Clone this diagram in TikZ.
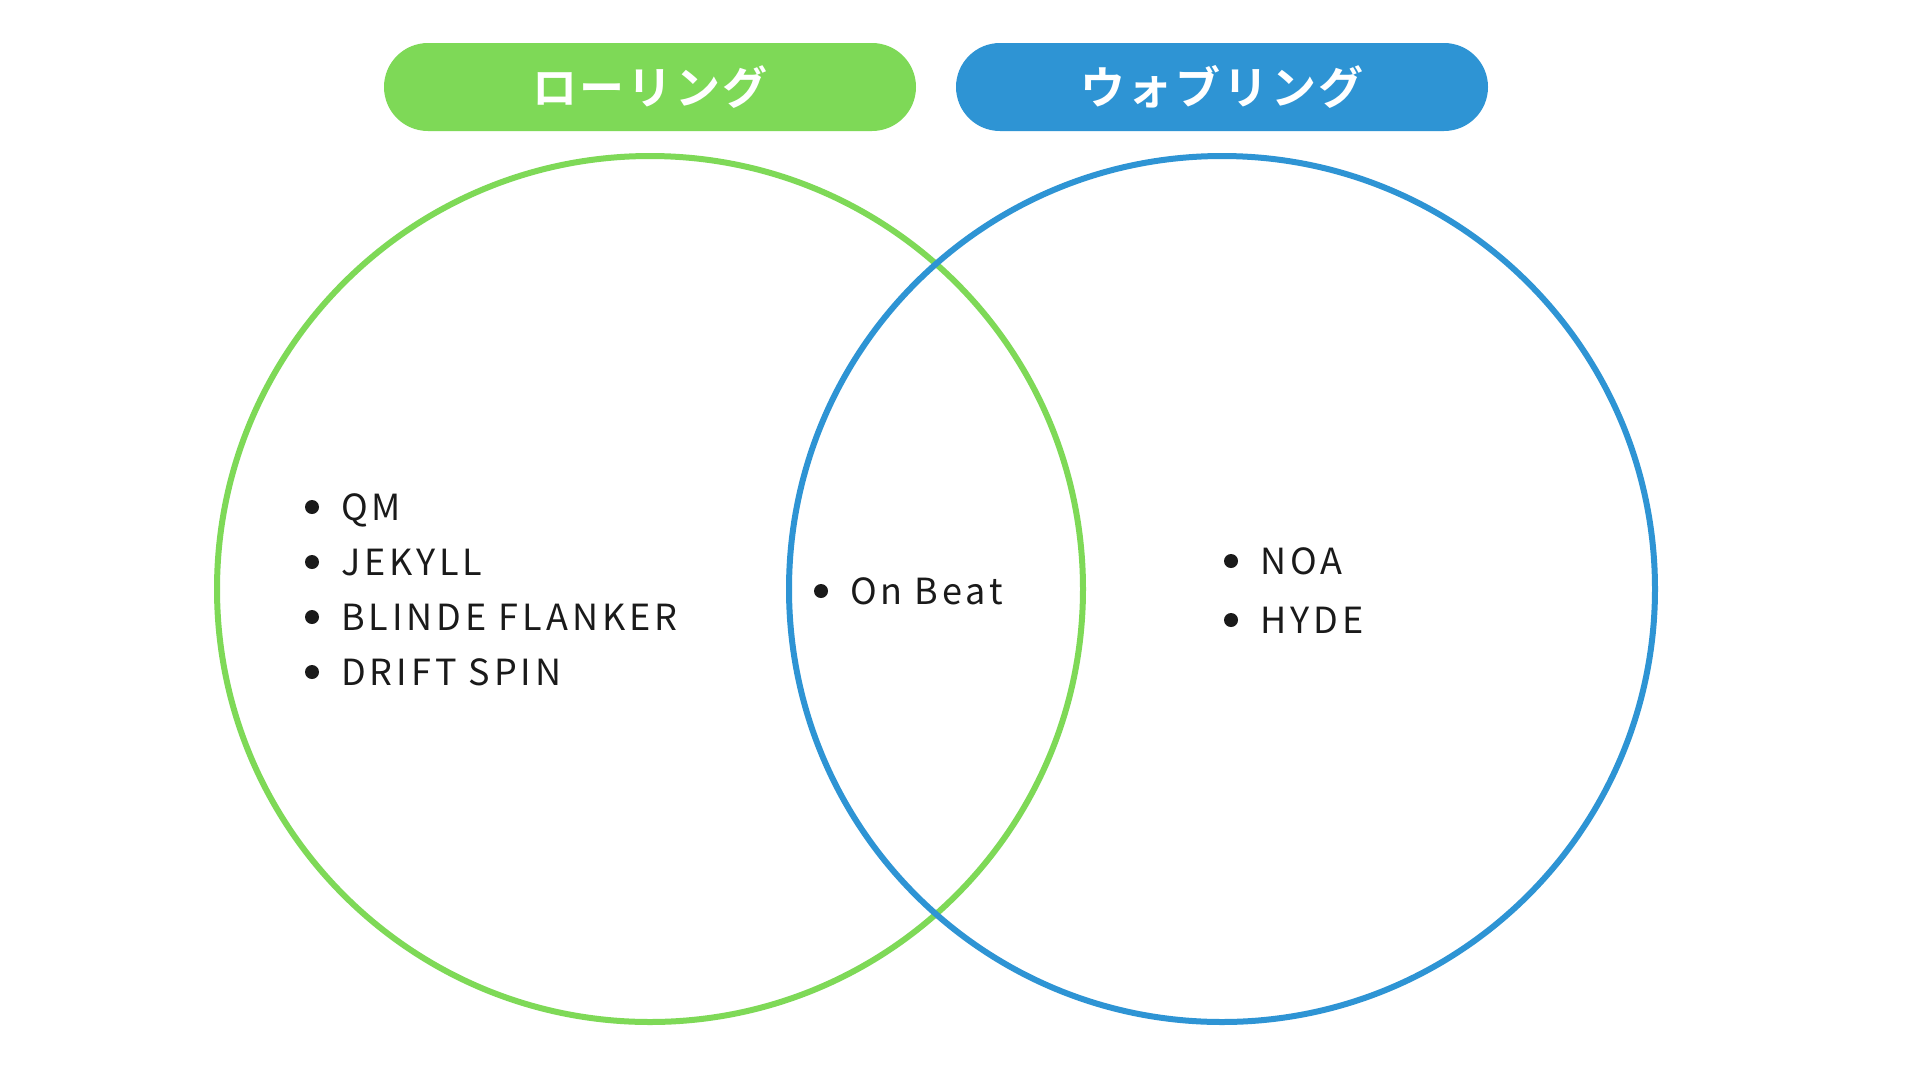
\documentclass[tikz,border=0pt]{standalone}
\usepackage{fontspec}
\setmainfont{Noto Sans CJK JP}
\newfontfamily\jpbold{Noto Sans CJK JP Bold}[LetterSpace=6]
\newfontfamily\listfont{Noto Sans CJK JP}[LetterSpace=11]
\definecolor{rollgreen}{RGB}{126,217,87}
\definecolor{wobblue}{RGB}{46,148,212}
\definecolor{txtdark}{RGB}{26,26,26}
\tikzset{
  pillbox/.style={rounded corners=44pt, minimum width=532pt, minimum height=88pt, inner sep=0pt, text=white, font=\jpbold\fontsize{45}{48}\selectfont},
  ring/.style={line width=6pt},
  item/.style={anchor=base west, inner sep=0pt, text=txtdark, font=\listfont\fontsize{36}{38}\selectfont},
  dot/.style={circle, fill=txtdark, minimum size=14pt, inner sep=0pt}
}
\begin{document}
\begin{tikzpicture}[x=1pt,y=-1pt]
\useasboundingbox (0,0) rectangle (1920,1080);
\fill[white] (0,0) rectangle (1920,1080);
% pills
\node[pillbox, fill=rollgreen] (pillL) at (650,87) {ローリング};
\node[pillbox, fill=wobblue] (pillR) at (1222,87) {ウォブリング};
% circles
\node[ring, draw=rollgreen, circle, minimum size=866pt, inner sep=0pt] (cL) at (650,589) {};
\node[ring, draw=wobblue, circle, minimum size=866pt, inner sep=0pt] (cR) at (1222,589) {};
% left list
\node[dot] (d1) at (312,507) {};
\node[item] (t1) at (341,520) {QM};
\node[dot] (d2) at (312,562) {};
\node[item] (t2) at (341,575) {JEKYLL};
\node[dot] (d3) at (312,617) {};
\node[item] (t3) at (341,630) {BLINDE FLANKER};
\node[dot] (d4) at (312,672) {};
\node[item] (t4) at (341,685) {DRIFT SPIN};
% middle
\node[dot] (d5) at (821,591) {};
\node[item] (t5) at (850,604) {On Beat};
% right list
\node[dot] (d6) at (1231,561) {};
\node[item] (t6) at (1260,574) {NOA};
\node[dot] (d7) at (1231,620) {};
\node[item] (t7) at (1260,633) {HYDE};
\end{tikzpicture}
\end{document}
